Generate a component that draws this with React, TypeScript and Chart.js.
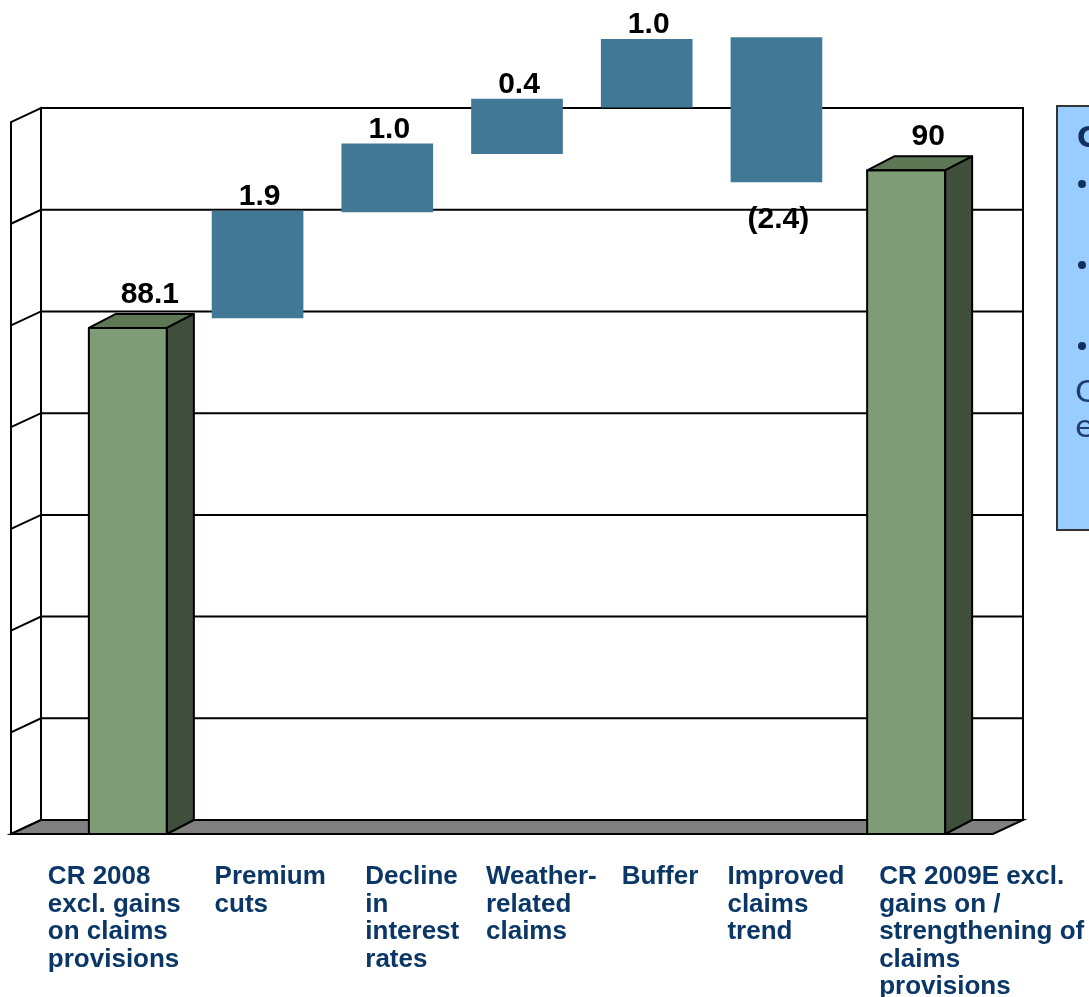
import React, { useEffect, useRef } from "react";
import { Chart, registerables } from "chart.js";

Chart.register(...registerables);

// ---------- data ----------
const CATEGORY_LINES: string[][] = [
  ["CR 2008", "excl. gains", "on claims", "provisions"],
  ["Premium", "cuts"],
  ["Decline", "in", "interest", "rates"],
  ["Weather-", "related", "claims"],
  ["Buffer"],
  ["Improved", "claims", "trend"],
  ["CR 2009E excl.", "gains on /", "strengthening of", "claims", "provisions"],
];
const CATEGORIES = CATEGORY_LINES.map((l) => l.join(" "));

// combined ratio totals (green 3D columns)
const TOTAL_VALUES: (number | null)[] = [88.1, null, null, null, null, null, 90];
// changes shown as labels on the floating (blue) bars
const STEP_CHANGES: (number | null)[] = [null, 1.9, 1.0, 0.4, 1.0, -2.4, null];
// floating bar extents as drawn in the picture (axis units)
const STEP_LOW: (number | null)[] = [null, 88.22, 89.5, 90.2, 90.76, 89.86, null];
const STEP_HIGH: (number | null)[] = [null, 89.51, 90.32, 90.86, 91.58, 91.6, null];

const Y_MIN = 82;
const Y_MAX = 91.8;
const GRID_STEP = 1.226;
const GRID_COUNT = 7;

// ---------- style / layout ----------
const GREEN_FRONT = "#7E9C75";
const GREEN_TOP = "#5E7856";
const GREEN_SIDE = "#3F4F3B";
const BLUE = "#407896";
const NAVY = "#0B3767";
const FLOOR = "#808080";
const WALL_DX = 30;
const WALL_DY = 14;
const BAR_DX = 27;
const BAR_DY = 14;
// horizontal shift of each category text block's left edge from its tick
const LABEL_SHIFT = [-80, -43, -22, -31, -25, -49, -27];

const fmtTotal = (v: number) => (Number.isInteger(v) ? String(v) : v.toFixed(1));
const fmtChange = (v: number) => (v < 0 ? `(${Math.abs(v).toFixed(1)})` : v.toFixed(1));

const wallPlugin = {
  id: "wall3d",
  beforeDatasetsDraw(chart: any) {
    const { ctx, chartArea } = chart;
    const ys = chart.scales.y;
    const fl = chartArea.left - 52;
    const fr = chartArea.right + 22;
    const fb = ys.getPixelForValue(Y_MIN);
    const ft = ys.getPixelForValue(Y_MIN + GRID_STEP * GRID_COUNT);
    ctx.save();
    ctx.lineWidth = 2;
    ctx.strokeStyle = "#000";
    ctx.lineJoin = "miter";
    ctx.fillStyle = "#fff";
    ctx.beginPath();
    ctx.rect(fl + WALL_DX, ft - WALL_DY, fr - fl, fb - ft);
    ctx.fill();
    ctx.stroke();
    ctx.beginPath();
    ctx.moveTo(fl, ft);
    ctx.lineTo(fl + WALL_DX, ft - WALL_DY);
    ctx.lineTo(fl + WALL_DX, fb - WALL_DY);
    ctx.lineTo(fl, fb);
    ctx.closePath();
    ctx.fill();
    ctx.stroke();
    for (let j = 1; j < GRID_COUNT; j++) {
      const yy = ys.getPixelForValue(Y_MIN + j * GRID_STEP);
      ctx.beginPath();
      ctx.moveTo(fl, yy);
      ctx.lineTo(fl + WALL_DX, yy - WALL_DY);
      ctx.lineTo(fr + WALL_DX, yy - WALL_DY);
      ctx.stroke();
    }
    ctx.fillStyle = FLOOR;
    ctx.beginPath();
    ctx.moveTo(fl, fb);
    ctx.lineTo(fr, fb);
    ctx.lineTo(fr + WALL_DX, fb - WALL_DY);
    ctx.lineTo(fl + WALL_DX, fb - WALL_DY);
    ctx.closePath();
    ctx.fill();
    ctx.stroke();
    ctx.restore();
  },
  afterDatasetsDraw(chart: any) {
    const { ctx } = chart;
    const meta = chart.getDatasetMeta(0);
    ctx.save();
    ctx.lineWidth = 2;
    ctx.strokeStyle = "#000";
    ctx.lineJoin = "round";
    meta.data.forEach((el: any, i: number) => {
      if (TOTAL_VALUES[i] == null) return;
      const { x, y, base, width } = el.getProps(["x", "y", "base", "width"], true);
      const l = x - width / 2;
      const r = x + width / 2;
      ctx.fillStyle = GREEN_TOP;
      ctx.beginPath();
      ctx.moveTo(l, y);
      ctx.lineTo(l + BAR_DX, y - BAR_DY);
      ctx.lineTo(r + BAR_DX, y - BAR_DY);
      ctx.lineTo(r, y);
      ctx.closePath();
      ctx.fill();
      ctx.stroke();
      ctx.fillStyle = GREEN_SIDE;
      ctx.beginPath();
      ctx.moveTo(r, y);
      ctx.lineTo(r + BAR_DX, y - BAR_DY);
      ctx.lineTo(r + BAR_DX, base - BAR_DY);
      ctx.lineTo(r, base);
      ctx.closePath();
      ctx.fill();
      ctx.stroke();
      ctx.strokeRect(l, y, width, base - y);
    });
    ctx.restore();
  },
  afterDraw(chart: any) {
    const { ctx, chartArea } = chart;
    const xs = chart.scales.x;
    ctx.save();
    // value labels
    ctx.font = 'bold 30px "Liberation Sans", Arial, sans-serif';
    ctx.fillStyle = "#000";
    ctx.textAlign = "center";
    ctx.textBaseline = "alphabetic";
    const m0 = chart.getDatasetMeta(0);
    const m1 = chart.getDatasetMeta(1);
    for (let i = 0; i < CATEGORIES.length; i++) {
      const tv = TOTAL_VALUES[i];
      if (tv != null) {
        const el = m0.data[i];
        ctx.fillText(fmtTotal(tv), el.x + 22, el.y - 25);
      }
      const sc = STEP_CHANGES[i];
      if (sc != null) {
        const el = m1.data[i];
        const top = Math.min(el.y, el.base);
        const bot = Math.max(el.y, el.base);
        if (sc >= 0) ctx.fillText(fmtChange(sc), el.x + 2, top - 6);
        else ctx.fillText(fmtChange(sc), el.x + 2, bot + 46);
      }
    }
    // category labels
    ctx.font = 'bold 26px "Liberation Sans", Arial, sans-serif';
    ctx.fillStyle = NAVY;
    ctx.textAlign = "left";
    CATEGORY_LINES.forEach((lines, i) => {
      const left = xs.getPixelForValue(i) + LABEL_SHIFT[i];
      lines.forEach((s, k) => {
        ctx.fillText(s, left, chartArea.bottom + 50 + k * 27.5);
      });
    });
    // side text box (cut by the right edge)
    const bx = chart.width - 32;
    ctx.fillStyle = "#99CCFF";
    ctx.strokeStyle = "#333";
    ctx.lineWidth = 2;
    ctx.fillRect(bx, 106, 60, 424);
    ctx.strokeRect(bx, 106, 60, 424);
    ctx.fillStyle = "#12315C";
    ctx.textBaseline = "alphabetic";
    ctx.font = 'bold 28px "DejaVu Sans", Verdana, sans-serif';
    ctx.fillText("C", bx + 20, 147);
    ctx.beginPath();
    [184, 265, 346].forEach((yy) => {
      ctx.moveTo(bx + 29, yy);
      ctx.arc(bx + 25, yy, 4, 0, Math.PI * 2);
    });
    ctx.fill();
    ctx.font = '31px "DejaVu Sans", Verdana, sans-serif';
    ctx.fillStyle = "#1F3E6B";
    ctx.fillText("C", bx + 18, 402);
    ctx.fillText("e", bx + 18, 437);
    ctx.restore();
  },
};

export default function App() {
  const ref = useRef<HTMLCanvasElement | null>(null);
  useEffect(() => {
    document.body.style.margin = "0";
    document.body.style.overflow = "hidden";
    const canvas = ref.current;
    if (!canvas) return;
    const chart = new Chart(canvas, {
      type: "bar",
      data: {
        labels: CATEGORIES,
        datasets: [
          {
            label: "Combined ratio",
            data: TOTAL_VALUES as any,
            base: Y_MIN,
            backgroundColor: GREEN_FRONT,
            borderWidth: 0,
            barThickness: 78,
            grouped: false,
          } as any,
          {
            label: "Change",
            data: STEP_LOW.map((lo, i) => (lo == null ? null : [lo, STEP_HIGH[i] as number])) as any,
            backgroundColor: BLUE,
            borderWidth: 0,
            barThickness: 91,
            grouped: false,
          } as any,
        ],
      },
      options: {
        responsive: false,
        animation: false,
        devicePixelRatio: 1,
        layout: { padding: { left: 63, right: 118, top: 21, bottom: 163 } },
        plugins: { legend: { display: false }, tooltip: { enabled: false } },
        scales: {
          x: { display: false, offset: true },
          y: { display: false, min: Y_MIN, max: Y_MAX },
        },
      },
      plugins: [wallPlugin],
    });
    return () => chart.destroy();
  }, []);
  return <canvas ref={ref} width={1089} height={997} style={{ display: "block" }} />;
}
